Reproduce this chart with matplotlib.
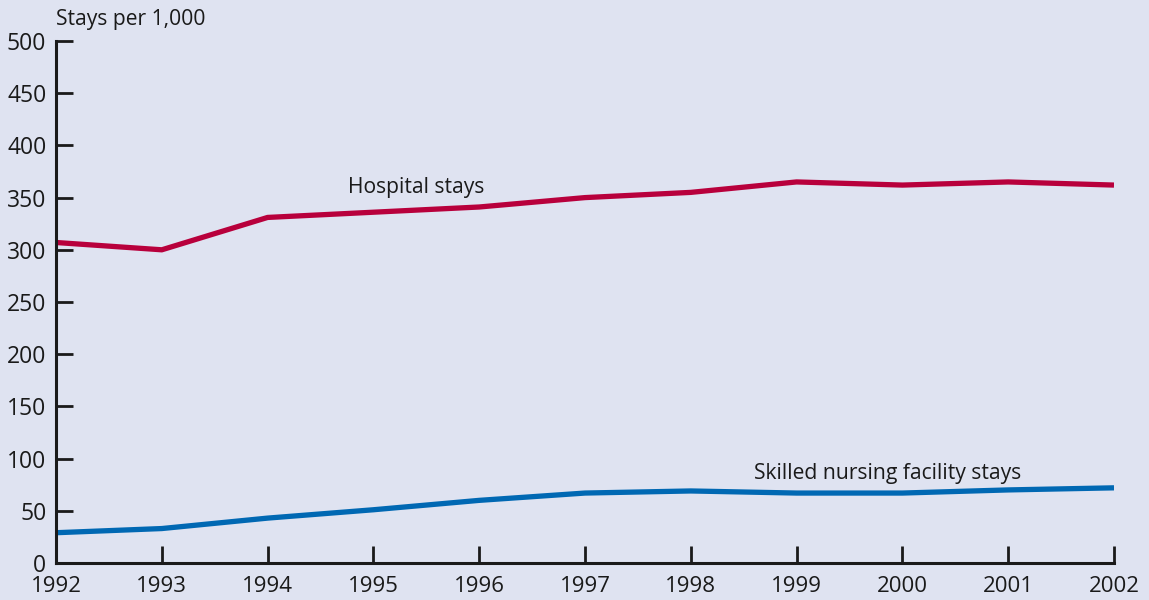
import matplotlib
matplotlib.use("Agg")
import matplotlib.pyplot as plt

years = [1992, 1993, 1994, 1995, 1996, 1997, 1998, 1999, 2000, 2001, 2002]
hospital = [307, 300, 331, 336, 341, 350, 355, 365, 362, 365, 362]
snf = [29, 33, 43, 51, 60, 67, 69, 67, 67, 70, 72]
y_ticks = [0, 50, 100, 150, 200, 250, 300, 350, 400, 450, 500]

bg = '#dfe3f1'
ink = '#1a1a1a'
plt.rcParams['font.family'] = ['Open Sans', 'DejaVu Sans']

fig = plt.figure(figsize=(11.49, 6), dpi=100, facecolor=bg)
ax = fig.add_axes([56 / 1149, 37 / 600, (1114 - 56) / 1149, (563 - 41) / 600])
ax.set_facecolor(bg)

ax.plot(years, hospital, color='#b8003c', linewidth=3.8, solid_capstyle='butt')
ax.plot(years, snf, color='#0068b3', linewidth=3.8, solid_capstyle='butt')

ax.set_xlim(1992, 2002)
ax.set_ylim(0, 500)
ax.set_xticks(years)
ax.set_yticks(y_ticks)
ax.tick_params(axis='both', direction='in', length=12, width=2, labelsize=16.5,
               color=ink, labelcolor=ink)
ax.tick_params(axis='y', pad=7)
ax.tick_params(axis='x', pad=9, labelsize=16)

for side in ['top', 'right']:
    ax.spines[side].set_visible(False)
for side in ['left', 'bottom']:
    ax.spines[side].set_linewidth(2.2)
    ax.spines[side].set_color(ink)

ax.text(1994.76, 350, 'Hospital stays', fontsize=15.2, color=ink, va='bottom')
ax.text(1998.6, 76, 'Skilled nursing facility stays', fontsize=15.2, color=ink, va='bottom')
fig.text(56 / 1149, 1 - 19 / 600, 'Stays per 1,000', fontsize=15.2, color=ink, va='center')

fig.savefig('out.png', dpi=100, facecolor=bg)
